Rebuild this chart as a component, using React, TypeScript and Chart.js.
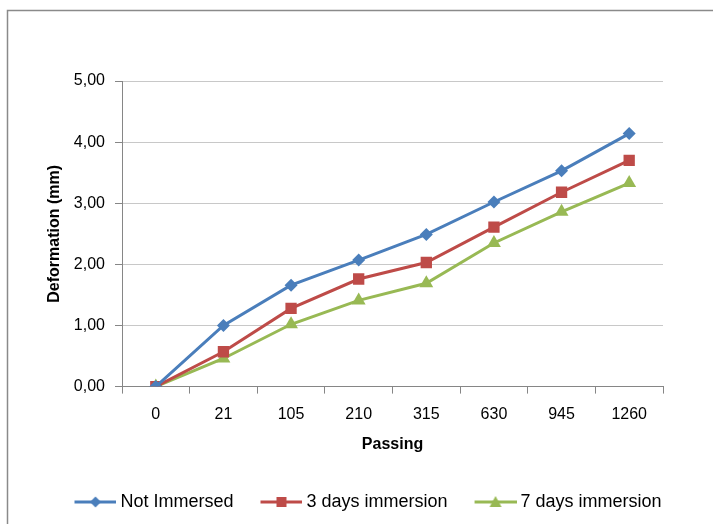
import React, { useEffect, useRef } from "react";
import { Chart, registerables } from "chart.js";

Chart.register(...registerables);

const categories = ["0", "21", "105", "210", "315", "630", "945", "1260"];
const notImmersed = [0, 1.0, 1.66, 2.07, 2.49, 3.02, 3.53, 4.14];
const threeDays = [0, 0.57, 1.28, 1.76, 2.03, 2.61, 3.18, 3.7];
const sevenDays = [0, 0.46, 1.02, 1.41, 1.69, 2.35, 2.86, 3.33];
const seriesNames = ["Not Immersed", "3 days immersion", "7 days immersion"];
const yMin = 0;
const yMax = 5;
const yStep = 1;

const BLUE = "#4A7EBB";
const RED = "#BE4B48";
const GREEN = "#98B954";
const FONT = "'Liberation Sans', Arial, sans-serif";

// legend swatch: image 64 wide, line drawn in the right 42 px
function legendImage(color: string, style: string): HTMLCanvasElement {
  const c = document.createElement("canvas");
  c.width = 64;
  c.height = 16;
  const g = c.getContext("2d")!;
  g.strokeStyle = color;
  g.lineWidth = 3;
  g.beginPath();
  g.moveTo(22, 8);
  g.lineTo(64, 8);
  g.stroke();
  g.fillStyle = color;
  g.beginPath();
  const cx = 43;
  if (style === "diamond") {
    g.moveTo(cx, 2.5);
    g.lineTo(cx + 5.5, 8);
    g.lineTo(cx, 13.5);
    g.lineTo(cx - 5.5, 8);
  } else if (style === "square") {
    g.rect(cx - 5, 3, 10, 10);
  } else {
    g.moveTo(cx, 2);
    g.lineTo(cx + 6, 13);
    g.lineTo(cx - 6, 13);
  }
  g.closePath();
  g.fill();
  return c;
}

const framePlugin = {
  id: "frame",
  beforeDraw(chart: any) {
    const ctx = chart.ctx;
    ctx.save();
    ctx.strokeStyle = "#8a8a8a";
    ctx.lineWidth = 1.5;
    ctx.beginPath();
    ctx.moveTo(7.5, 524);
    ctx.lineTo(7.5, 10.5);
    ctx.lineTo(713, 10.5);
    ctx.stroke();
    ctx.restore();
  },
};

const shiftLegend = {
  id: "shiftLegend",
  afterLayout(chart: any) {
    if (chart.legend) {
      chart.legend.left += 3;
      chart.legend.right += 3;
    }
  },
};

export default function App() {
  const ref = useRef<HTMLCanvasElement | null>(null);

  useEffect(() => {
    document.body.style.margin = "0";
    const styles = ["diamond", "square", "triangle"];
    const colors = [BLUE, RED, GREEN];
    const images = colors.map((c, i) => legendImage(c, styles[i]));
    const chart = new Chart(ref.current!, {
      type: "line",
      data: {
        labels: categories,
        datasets: [
          {
            label: seriesNames[0],
            data: notImmersed,
            borderColor: BLUE,
            backgroundColor: BLUE,
            borderWidth: 3,
            pointStyle: "rectRot",
            pointRadius: 6.5,
            pointBorderWidth: 0,
          },
          {
            label: seriesNames[1],
            data: threeDays,
            borderColor: RED,
            backgroundColor: RED,
            borderWidth: 3,
            pointStyle: "rect",
            pointRadius: 8,
            pointBorderWidth: 0,
          },
          {
            label: seriesNames[2],
            data: sevenDays,
            borderColor: GREEN,
            backgroundColor: GREEN,
            borderWidth: 3,
            pointStyle: "triangle",
            pointRadius: 8,
            pointBorderWidth: 0,
          },
        ],
      },
      options: {
        responsive: false,
        animation: false,
        devicePixelRatio: 1,
        layout: { padding: { left: 8, right: 8, top: 81, bottom: 3 } },
        plugins: {
          tooltip: { enabled: false },
          legend: {
            position: "bottom",
            labels: {
              usePointStyle: true,
              pointStyleWidth: 54,
              padding: 10,
              color: "#000",
              font: { family: FONT, size: 18 },
              generateLabels: (ch: any) =>
                ch.data.datasets.map((d: any, i: number) => ({
                  text: d.label,
                  pointStyle: images[i],
                  fillStyle: colors[i],
                  strokeStyle: colors[i],
                  lineWidth: 0,
                  hidden: false,
                  datasetIndex: i,
                })),
            },
          },
        },
        scales: {
          x: {
            offset: true,
            afterFit: (s: any) => {
              s.paddingRight = 50;
            },
            grid: {
              offset: true,
              drawOnChartArea: false,
              drawTicks: true,
              tickLength: 7,
              color: "#868686",
            },
            border: { color: "#868686", width: 1 },
            ticks: {
              color: "#000",
              padding: 11,
              maxRotation: 0,
              font: { family: FONT, size: 16 },
            },
            title: {
              display: true,
              text: "Passing",
              color: "#000",
              padding: { top: 0, bottom: 29 },
              font: { family: FONT, size: 16, weight: "bold" },
            },
          },
          y: {
            min: yMin,
            max: yMax,
            afterFit: (s: any) => {
              s.width = 114;
            },
            ticks: {
              stepSize: yStep,
              color: "#000",
              padding: 10,
              font: { family: FONT, size: 16 },
              callback: (v: any) => Number(v).toFixed(2).replace(".", ","),
            },
            grid: {
              color: "#c8c8c8",
              tickLength: 7,
              tickColor: "#868686",
            },
            border: { color: "#868686", width: 1 },
            title: {
              display: true,
              text: "Deformation (mm)",
              color: "#000",
              padding: { top: 37, bottom: 0 },
              font: { family: FONT, size: 16, weight: "bold" },
            },
          },
        },
      },
      plugins: [framePlugin, shiftLegend],
    } as any);
    return () => chart.destroy();
  }, []);

  return (
    <div style={{ position: "fixed", left: 0, top: 0, width: 713, height: 524, background: "#fff" }}>
      <canvas ref={ref} width={713} height={524} />
    </div>
  );
}
